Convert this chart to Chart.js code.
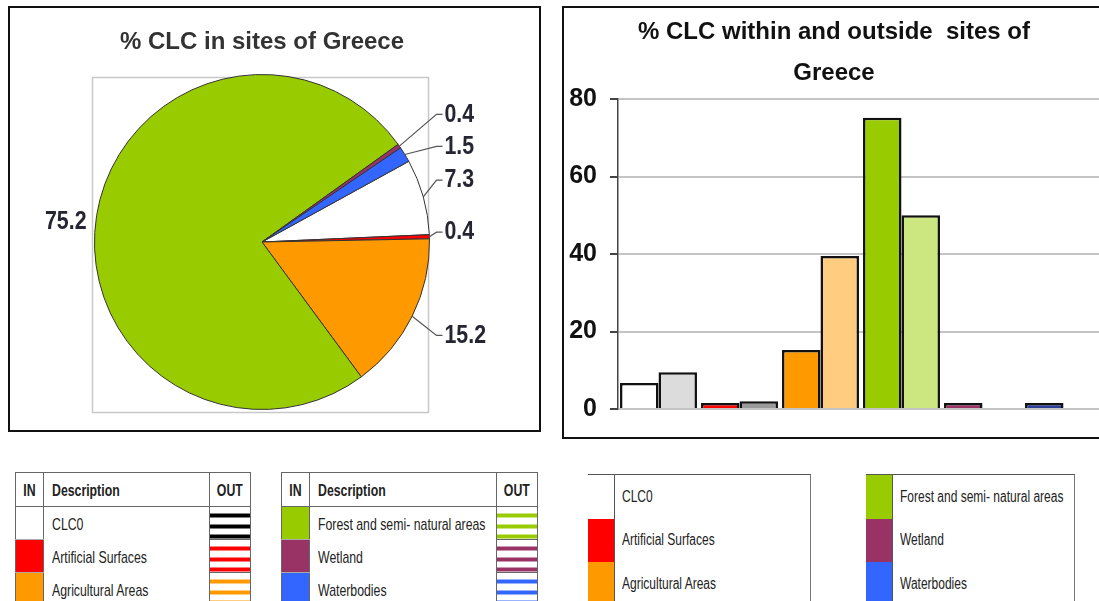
<!DOCTYPE html>
<html>
<head>
<meta charset="utf-8">
<script src="https://cdn.jsdelivr.net/npm/chart.js@4.4.1/dist/chart.umd.min.js"></script>
<style>
body { margin:0; width:1099px; height:601px; overflow:hidden; position:relative; background:#fff;
       font-family:"Liberation Sans", Arial, sans-serif; color:#222; }
.panel { position:absolute; border:2px solid #111; overflow:hidden; }
#piePanel { left:8px; top:6px; width:529px; height:422px; }
#barPanel { left:562px; top:6px; width:600px; height:429px; }
table.lt { position:absolute; top:472px; border-collapse:collapse; table-layout:fixed; }
table.lt th, table.lt td { border:1px solid #666; padding:0; font-size:15px; white-space:nowrap; overflow:hidden; }
table.lt th { height:33px; font-weight:bold; text-align:center; }
table.lt th.dh { text-align:left; padding-left:8px; }
table.lt td { height:32px; }
table.lt td.d { border-top:none; border-bottom:none; padding-left:8px; }
table.lt td.in { border-top:1px solid #aaa; border-bottom:1px solid #aaa; }
table.lt span { display:inline-block; transform:scale(0.82, 1.12); transform-origin:left center; }
table.lt th.c span { transform-origin:center center; }
.rl { position:absolute; top:474px; border-top:1px solid #555; border-right:1px solid #777; }
.rl .row { height:43.5px; display:flex; align-items:center; }
.rl .sw { width:26px; height:100%; border-right:1px solid #555; flex:none; }
.rl .tx { padding-left:7px; font-size:16px; white-space:nowrap; }
.rl .tx span { display:inline-block; transform:scale(0.75, 1.08); transform-origin:left center; }
</style>
</head>
<body>
<div class="panel" id="piePanel"><canvas id="pie" width="529" height="422"></canvas></div>
<div class="panel" id="barPanel"><canvas id="bar" width="580" height="429"></canvas></div>
<div id="legends"></div>
<script>
// categories and values
var categories = ['CLC0', 'Artificial Surfaces', 'Agricultural Areas', 'Forest and semi- natural areas', 'Wetland', 'Waterbodies'];
var inSites = [7.3, 0.4, 15.2, 75.2, 0.4, 1.5];        // pie, % inside sites
var barIn = [6.7, 0.4, 15.2, 75.2, 0.4, 1.5];          // bar, within sites
var barOut = [9.5, 2, 39.5, 50, null, null];           // bar, outside sites
var yTicks = [0, 20, 40, 60, 80];

var inColors = ['#ffffff', '#ff0000', '#ff9900', '#99cc00', '#993366', '#3366ff'];
var inBarColors = ['#ffffff', '#ff0000', '#ff9900', '#99cc00', '#993366', '#2b3f99'];
var outBarColors = ['#dcdcdc', '#9a9a9a', '#ffcc80', '#cce680', '#cc8fb0', '#99b3ff'];
var outStripes = ['#000000', '#ff0000', '#ff9900', '#99cc00', '#993366', '#3366ff'];

var sans = '"Liberation Sans", Arial, sans-serif';

// narrow-looking text on canvas
function narrowText(ctx, txt, x, y, align) {
    ctx.save();
    ctx.translate(x, y);
    ctx.scale(0.82, 1);
    ctx.textAlign = align;
    ctx.fillText(txt, 0, 0);
    ctx.restore();
}

// frame + value labels with leader lines for the pie
var pieLabels = {
    id: 'pieLabels',
    beforeDatasetsDraw: function(chart) {
        var ca = chart.chartArea, ctx = chart.ctx;
        ctx.save();
        ctx.strokeStyle = '#c8c8c8';
        ctx.lineWidth = 1.5;
        ctx.strokeRect(ca.left - 1.5, ca.top + 3.5, ca.width, ca.height - 1);
        ctx.restore();
    },
    afterDatasetsDraw: function(chart) {
        var ctx = chart.ctx;
        var arcs = chart.getDatasetMeta(0).data;
        var vals = chart.data.datasets[0].data;
        var right = [];
        ctx.save();
        ctx.font = 'bold 26px ' + sans;
        ctx.fillStyle = '#262633';
        ctx.strokeStyle = '#555';
        ctx.lineWidth = 1.2;
        ctx.textBaseline = 'middle';
        arcs.forEach(function(arc, i) {
            var p = arc.getProps(['x', 'y', 'startAngle', 'endAngle', 'outerRadius'], true);
            var mid = (p.startAngle + p.endAngle) / 2;
            var ex = p.x + p.outerRadius * Math.cos(mid);
            var ey = p.y + p.outerRadius * Math.sin(mid);
            var txt = vals[i].toFixed(1);
            if (Math.cos(mid) < 0) {
                narrowText(ctx, txt, p.x - p.outerRadius - 8, ey + 6, 'right');
            } else {
                right.push({ex: ex, ey: ey, ly: p.y + (ey - p.y) * 1.3 - 3, txt: txt, cx: p.x, r: p.outerRadius});
            }
        });
        right.sort(function(a, b) { return a.ly - b.ly; });
        for (var k = 1; k < right.length; k++) {
            if (right[k].ly < right[k - 1].ly + 32) right[k].ly = right[k - 1].ly + 32;
        }
        right.forEach(function(l) {
            var bx = l.cx + l.r + 7;
            ctx.beginPath();
            ctx.moveTo(l.ex, l.ey);
            ctx.lineTo(bx, l.ly);
            ctx.lineTo(bx + 6, l.ly);
            ctx.stroke();
            narrowText(ctx, l.txt, bx + 8, l.ly, 'left');
        });
        ctx.restore();
    }
};

new Chart(document.getElementById('pie'), {
    type: 'pie',
    data: {
        labels: categories,
        datasets: [{
            data: inSites,
            backgroundColor: inColors,
            borderColor: '#333',
            borderWidth: 1,
            hoverOffset: 0
        }]
    },
    options: {
        responsive: false,
        animation: false,
        rotation: 61.2,
        layout: { padding: { left: 84, right: 109, top: 0, bottom: 20 } },
        plugins: {
            legend: { display: false },
            tooltip: { enabled: false },
            title: {
                display: true,
                text: '% CLC in sites of Greece',
                color: '#333',
                font: { family: sans, size: 24, weight: 'bold', lineHeight: 1.2 },
                padding: { top: 19.6, bottom: 17.6 }
            }
        }
    },
    plugins: [pieLabels]
});

new Chart(document.getElementById('bar'), {
    type: 'bar',
    data: {
        labels: categories,
        datasets: [{
            label: 'IN',
            data: barIn,
            backgroundColor: inBarColors,
            borderColor: '#111',
            borderWidth: 2.5,
            minBarLength: 6,
            categoryPercentage: 0.95,
            barPercentage: 1
        }, {
            label: 'OUT',
            data: barOut,
            backgroundColor: outBarColors,
            borderColor: '#111',
            borderWidth: 2.5,
            categoryPercentage: 0.95,
            barPercentage: 1
        }]
    },
    options: {
        responsive: false,
        animation: false,
        layout: { padding: { left: 0, right: 40, top: 0, bottom: 25 } },
        scales: {
            x: { display: false },
            y: {
                min: yTicks[0],
                max: yTicks[yTicks.length - 1],
                ticks: {
                    stepSize: yTicks[1] - yTicks[0],
                    padding: 13,
                    color: '#111',
                    font: { family: sans, size: 25, weight: 'bold' }
                },
                grid: { color: '#c4c4c4', lineWidth: 2, tickLength: 8, tickColor: '#444' },
                border: { color: '#444', width: 1.5 },
                afterFit: function(s) { s.width = 54; }
            }
        },
        plugins: {
            legend: { display: false },
            tooltip: { enabled: false },
            title: {
                display: true,
                text: ['% CLC within and outside  sites of', 'Greece'],
                color: '#111',
                font: { family: sans, size: 24, weight: 'bold', lineHeight: 1.71 },
                padding: { top: 3.5, bottom: 5.5 }
            }
        }
    }
});

// legend tables below the charts
function stripe(c) {
    return 'repeating-linear-gradient(to bottom, #fff 0px, #fff 6px, ' + c + ' 6px, ' + c + ' 10px, #fff 10px, #fff 10.67px)';
}
function buildTable(left, descW, idx) {
    var html = '<table class="lt" style="left:' + left + 'px;width:' + (28 + descW + 41) + 'px">' +
        '<colgroup><col style="width:28px"><col style="width:' + descW + 'px"><col style="width:41px"></colgroup>' +
        '<tr><th class="c"><span>IN</span></th><th class="dh"><span>Description</span></th>' +
        '<th class="c"><span>OUT</span></th></tr>';
    idx.forEach(function(i) {
        html += '<tr><td class="in" style="background:' + inColors[i] + '"></td>' +
            '<td class="d"><span>' + categories[i] + '</span></td>' +
            '<td style="background:' + stripe(outStripes[i]) + '"></td></tr>';
    });
    return html + '</table>';
}
function buildBox(left, width, idx) {
    var html = '<div class="rl" style="left:' + left + 'px;width:' + width + 'px">';
    idx.forEach(function(i) {
        html += '<div class="row"><div class="sw" style="background:' + inColors[i] + '"></div>' +
            '<div class="tx"><span>' + categories[i] + '</span></div></div>';
    });
    return html + '</div>';
}
document.getElementById('legends').innerHTML =
    buildTable(15, 166, [0, 1, 2]) + buildTable(281, 187, [3, 4, 5]) +
    buildBox(588, 222, [0, 1, 2]) + buildBox(866, 208, [3, 4, 5]);
</script>
</body>
</html>
